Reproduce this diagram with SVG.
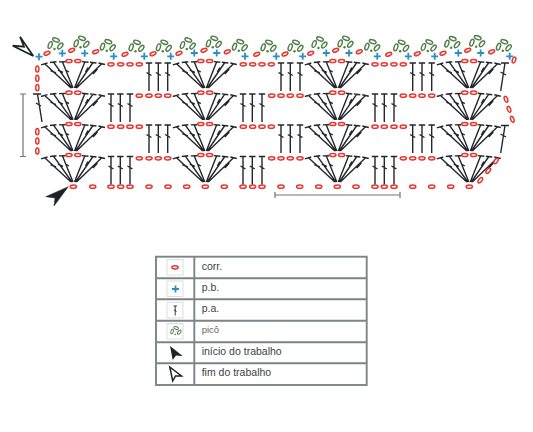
<svg xmlns="http://www.w3.org/2000/svg" width="533" height="432" viewBox="0 0 533 432">
<style>
.st{stroke:#23262b;stroke-width:1.4;fill:none}
.ch{fill:#fff;stroke:#e8352e;stroke-width:1.5}
.pl{stroke:#2b8fc4;stroke-width:1.8;fill:none}
.pi{fill:none;stroke:#4d7f45;stroke-width:1.4}
.pd{fill:#4d7f45}
.sc{stroke:#70757a;stroke-width:1.2;fill:none}
.tb{stroke:#7c8487;stroke-width:1.9;fill:none}
.ib{fill:#fff;stroke:#dcdfe0;stroke-width:1}
.tx{font-family:"Liberation Sans",Arial,sans-serif;font-size:10.500px;fill:#3d4144}
</style>
<defs>
<ellipse id="c" class="ch" cx="0" cy="0" rx="3.100" ry="1.600"/>
<ellipse id="cr" class="ch" cx="0" cy="0" rx="3.100" ry="1.600" transform="rotate(-22)"/>
<path id="p" class="pl" d="M-3.500 0H3.500M0-3.500V3.500"/>
<path id="s" class="st" d="M-3.200 0H3.200M0 0V28M-2.500 9.500L2.500 12.500"/>
<g id="f">
<path class="st" d="M-2.500 27L-28.500 3M-32.500 3.800L-26 2M-23 9.500L-17.500 12M-1.500 27L-20 1.200M-23.500 1.500L-17 .8M-15.500 9L-10.500 11.500M-.5 27L-11 1M-14.500 .9L-8 .8M-8 9L-4.500 11M1 27L11.500 .6M8.500 .6L15 1.300M7 12L8.500 8M2 27L19.500 1.500M16.500 1.200L23 2M12 11L14.500 6.500M3 27L28 3M25 2L31.500 3.500M19.500 13L24 8"/>
<use href="#c" x="-4.500" y="0"/><use href="#c" x="4.300" y="0"/>
</g>
<g id="pc">
<ellipse class="pi" cx="-4.800" cy="0" rx="3.500" ry="1.800" transform="rotate(-70 -4.800 0)"/>
<ellipse class="pi" cx="1" cy="-5" rx="3.500" ry="1.800" transform="rotate(20 1 -5)"/>
<ellipse class="pi" cx="5.300" cy="1" rx="3.500" ry="1.800" transform="rotate(-50 5.300 1)"/>
<circle class="pd" cx="-.5" cy="4" r="1.200"/>
</g>
</defs>
<g id="scale-bars">
<path class="sc" d="M20 94H26M23 94V156.500M20 156.500H26"/>
<path class="sc" d="M275 192V198M275 195H400M400 192V198"/>
</g>
<g id="stems">
<use href="#s" x="149" y="63"/><use href="#s" x="158.300" y="63"/><use href="#s" x="167.700" y="63"/>
<use href="#s" x="281" y="63"/><use href="#s" x="290.300" y="63"/><use href="#s" x="300" y="63"/>
<use href="#s" x="412.700" y="63"/><use href="#s" x="422" y="63"/><use href="#s" x="431.700" y="63"/>
<use href="#s" x="111" y="94"/><use href="#s" x="120.300" y="94"/><use href="#s" x="130" y="94"/>
<use href="#s" x="243" y="94"/><use href="#s" x="252.300" y="94"/><use href="#s" x="262" y="94"/>
<use href="#s" x="375" y="94"/><use href="#s" x="384.300" y="94"/><use href="#s" x="394" y="94"/>
<use href="#s" x="149" y="125"/><use href="#s" x="158.300" y="125"/><use href="#s" x="167.700" y="125"/>
<use href="#s" x="281" y="125"/><use href="#s" x="290.300" y="125"/><use href="#s" x="300" y="125"/>
<use href="#s" x="412.700" y="125"/><use href="#s" x="422" y="125"/><use href="#s" x="431.700" y="125"/>
<use href="#s" x="111" y="156.500"/><use href="#s" x="120.300" y="156.500"/><use href="#s" x="130" y="156.500"/>
<use href="#s" x="243" y="156.500"/><use href="#s" x="252.300" y="156.500"/><use href="#s" x="262" y="156.500"/>
<use href="#s" x="375" y="156.500"/><use href="#s" x="384.300" y="156.500"/><use href="#s" x="394" y="156.500"/>
<path class="st" d="M33 94H41M37.500 94L42 122M36 103L41 106"/>
<path class="st" d="M501 63H509M505 63L500.700 91M500.500 72L506 75"/>
<path class="st" d="M501 125.500H509M505 125.500L500.700 153M500.500 134L506 137"/>
</g>
<g id="fans">
<use href="#f" x="73.500" y="61"/><use href="#f" x="205.300" y="61"/><use href="#f" x="337.300" y="61"/><use href="#f" x="469.300" y="61"/>
<use href="#f" x="73.500" y="92.700"/><use href="#f" x="205.300" y="92.700"/><use href="#f" x="337.300" y="92.700"/><use href="#f" x="469.300" y="92.700"/>
<use href="#f" x="73.500" y="124"/><use href="#f" x="205.300" y="124"/><use href="#f" x="337.300" y="124"/><use href="#f" x="469.300" y="124"/>
<use href="#f" x="73.500" y="155"/><use href="#f" x="205.300" y="155"/><use href="#f" x="337.300" y="155"/><use href="#f" x="469.300" y="155"/>
</g>
<g id="chains">
<use href="#c" x="111" y="64.300"/><use href="#c" x="120.700" y="64.300"/><use href="#c" x="130" y="64.300"/><use href="#c" x="139.300" y="64.300"/>
<use href="#c" x="243.300" y="64.300"/><use href="#c" x="252.700" y="64.300"/><use href="#c" x="262" y="64.300"/><use href="#c" x="271.300" y="64.300"/>
<use href="#c" x="375" y="64.300"/><use href="#c" x="384.300" y="64.300"/><use href="#c" x="394" y="64.300"/><use href="#c" x="403.300" y="64.300"/>
<use href="#c" x="139.300" y="95.700"/><use href="#c" x="149" y="95.700"/><use href="#c" x="158.300" y="95.700"/><use href="#c" x="167.700" y="95.700"/>
<use href="#c" x="271.700" y="95.700"/><use href="#c" x="281" y="95.700"/><use href="#c" x="290.300" y="95.700"/><use href="#c" x="300" y="95.700"/>
<use href="#c" x="403.300" y="95.700"/><use href="#c" x="412.700" y="95.700"/><use href="#c" x="422" y="95.700"/><use href="#c" x="431.700" y="95.700"/>
<use href="#c" x="111" y="126.700"/><use href="#c" x="120.700" y="126.700"/><use href="#c" x="130" y="126.700"/><use href="#c" x="139.300" y="126.700"/>
<use href="#c" x="243.300" y="126.700"/><use href="#c" x="252.700" y="126.700"/><use href="#c" x="262" y="126.700"/><use href="#c" x="271.300" y="126.700"/>
<use href="#c" x="375" y="126.700"/><use href="#c" x="384.300" y="126.700"/><use href="#c" x="394" y="126.700"/><use href="#c" x="403.300" y="126.700"/>
<use href="#c" x="139.300" y="158.300"/><use href="#c" x="149" y="158.300"/><use href="#c" x="158.300" y="158.300"/><use href="#c" x="167.700" y="158.300"/>
<use href="#c" x="271.700" y="158.300"/><use href="#c" x="281" y="158.300"/><use href="#c" x="290.300" y="158.300"/><use href="#c" x="300" y="158.300"/>
<use href="#c" x="403.300" y="158.300"/><use href="#c" x="412.700" y="158.300"/><use href="#c" x="422" y="158.300"/><use href="#c" x="431.700" y="158.300"/>
<use href="#c" x="73.300" y="186.700"/><use href="#c" x="92.700" y="186.700"/><use href="#c" x="111" y="186.700"/><use href="#c" x="120.700" y="186.700"/><use href="#c" x="130" y="186.700"/><use href="#c" x="149" y="186.700"/><use href="#c" x="168" y="186.700"/><use href="#c" x="186.700" y="186.700"/><use href="#c" x="205.300" y="186.700"/><use href="#c" x="224.300" y="186.700"/><use href="#c" x="243" y="186.700"/><use href="#c" x="252.700" y="186.700"/><use href="#c" x="262" y="186.700"/><use href="#c" x="281" y="186.700"/><use href="#c" x="299.700" y="186.700"/><use href="#c" x="318.700" y="186.700"/><use href="#c" x="337.300" y="186.700"/><use href="#c" x="356" y="186.700"/><use href="#c" x="375" y="186.700"/><use href="#c" x="384.300" y="186.700"/><use href="#c" x="394" y="186.700"/><use href="#c" x="412.700" y="186.700"/><use href="#c" x="431.700" y="186.700"/><use href="#c" x="450.700" y="186.700"/><use href="#c" x="469.300" y="186.700"/>
<g transform="translate(37.300 69) rotate(90)"><use href="#c"/></g><g transform="translate(37.300 78.300) rotate(90)"><use href="#c"/></g><g transform="translate(37.300 87.700) rotate(90)"><use href="#c"/></g>
<g transform="translate(37.300 131.700) rotate(90)"><use href="#c"/></g><g transform="translate(37.300 141) rotate(90)"><use href="#c"/></g><g transform="translate(37.300 151) rotate(90)"><use href="#c"/></g>
<g transform="translate(506 99.300) rotate(70)"><use href="#c"/></g><g transform="translate(509 109.300) rotate(70)"><use href="#c"/></g><g transform="translate(512.300 119.300) rotate(70)"><use href="#c"/></g>
<g transform="translate(496 161) rotate(-55)"><use href="#c"/></g><g transform="translate(488.300 170.700) rotate(-50)"><use href="#c"/></g><g transform="translate(480.300 180.300) rotate(-50)"><use href="#c"/></g>
<g transform="translate(514 60) rotate(-70)"><use href="#c"/></g>
</g>
<g id="edging">
<use href="#p" x="39" y="56.700"/><use href="#p" x="62.300" y="53.300"/><use href="#p" x="84.700" y="53.300"/><use href="#p" x="113.700" y="56.300"/><use href="#p" x="144.300" y="56.300"/><use href="#p" x="170.700" y="56.300"/><use href="#p" x="194.300" y="53"/><use href="#p" x="216.700" y="53"/><use href="#p" x="245" y="56.300"/><use href="#p" x="276.300" y="56.300"/><use href="#p" x="302.700" y="56.300"/><use href="#p" x="326.300" y="53"/><use href="#p" x="349" y="53"/><use href="#p" x="377.300" y="56.300"/><use href="#p" x="408.300" y="56.300"/><use href="#p" x="434.700" y="56.300"/><use href="#p" x="458.300" y="53"/><use href="#p" x="480.700" y="53"/><use href="#p" x="509.700" y="56.300"/>
<g transform="translate(47 53.300)"><use href="#cr"/></g><g transform="translate(71.700 50.300)"><use href="#cr"/></g><g transform="translate(95.700 51.700)"><use href="#cr"/></g><g transform="translate(125 54.300)"><use href="#cr"/></g><g transform="translate(153 53.700)"><use href="#cr"/></g><g transform="translate(179 53.300)"><use href="#cr"/></g><g transform="translate(204 50.300)"><use href="#cr"/></g><g transform="translate(227.300 51.700)"><use href="#cr"/></g><g transform="translate(256.700 54.300)"><use href="#cr"/></g><g transform="translate(285 54)"><use href="#cr"/></g><g transform="translate(310.700 53.300)"><use href="#cr"/></g><g transform="translate(335.700 50.300)"><use href="#cr"/></g><g transform="translate(359.300 51.700)"><use href="#cr"/></g><g transform="translate(388.700 54.300)"><use href="#cr"/></g><g transform="translate(417.300 53.700)"><use href="#cr"/></g><g transform="translate(443 53.300)"><use href="#cr"/></g><g transform="translate(467.700 50.300)"><use href="#cr"/></g><g transform="translate(491.700 51.700)"><use href="#cr"/></g>
<use href="#pc" x="55" y="45"/><use href="#pc" x="81" y="43.300"/><use href="#pc" x="107.300" y="46.700"/><use href="#pc" x="136" y="47.300"/><use href="#pc" x="163.300" y="47.300"/><use href="#pc" x="187.300" y="45"/><use href="#pc" x="213.300" y="43.300"/><use href="#pc" x="239.300" y="46.700"/><use href="#pc" x="268" y="47.300"/><use href="#pc" x="295" y="47.300"/><use href="#pc" x="319" y="44"/><use href="#pc" x="345" y="43.300"/><use href="#pc" x="371.700" y="46.700"/><use href="#pc" x="400.700" y="47.300"/><use href="#pc" x="428.300" y="47"/><use href="#pc" x="451.700" y="43.700"/><use href="#pc" x="476.700" y="42.700"/><use href="#pc" x="503.300" y="46.700"/>
</g>
<g id="end-arrow"><path d="M33.300 56L20 36.700L24 46.700L12.700 45.700Z" fill="#fff" stroke="#1d2128" stroke-width="1.700"/></g>
<g id="start-arrow"><path d="M68.300 186.700L45.700 196.700L55 198L54 206Z" fill="#1d2128" stroke="#1d2128" stroke-width=".5"/></g>
<g id="legend">
<rect class="tb" x="156" y="256.700" width="210.700" height="128.300"/>
<path class="tb" d="M194.300 256.700V385M156 278.300H366.700M156 299.300H366.700M156 320.700H366.700M156 342.300H366.700M156 363.300H366.700"/>
<g id="legend-corr"><rect class="ib" x="167" y="259.500" width="16" height="15.500"/><use href="#c" x="175" y="267.300"/><text class="tx" x="201.700" y="270">corr.</text></g>
<g id="legend-pb"><rect class="ib" x="167" y="281" width="16" height="15.500"/><use href="#p" x="175.500" y="289"/><text class="tx" x="201.700" y="291">p.b.</text></g>
<g id="legend-pa"><rect class="ib" x="167" y="302.500" width="16" height="15.500"/><path stroke="#23262b" stroke-width=".9" fill="none" d="M173.500 306H177M175.200 306V315.500M174 310L176.500 311.500"/><text class="tx" x="201.700" y="312">p.a.</text></g>
<g id="legend-pico"><rect class="ib" x="167" y="323.500" width="16" height="15.500"/><g transform="translate(175.500 331.500) scale(.7)"><use href="#pc" style="opacity:.95"/></g><text class="tx" x="201.700" y="333" style="font-size:9.500px;fill:#666">picô</text></g>
<g id="legend-inicio"><path d="M170 346L182.700 356L176 355.500L172.700 360Z" fill="#1d2128"/><text class="tx" x="201.700" y="354.500">início do trabalho</text></g>
<g id="legend-fim"><path d="M169.800 367L181.500 376L175.500 376L172.700 381Z" fill="#fff" stroke="#1d2128" stroke-width="1.500"/><text class="tx" x="201.700" y="376">fim do trabalho</text></g>
</g>
</svg>
